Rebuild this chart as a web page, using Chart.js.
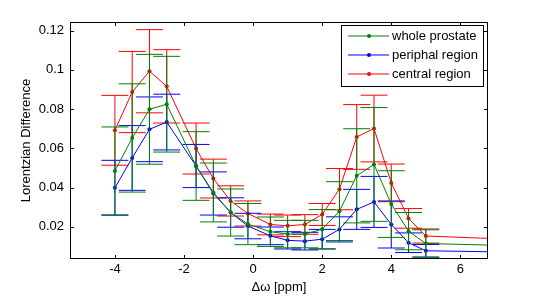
<!DOCTYPE html>
<html>
<head>
<meta charset="utf-8">
<script src="https://cdn.jsdelivr.net/npm/chart.js@4"></script>
<style>
  html, body { margin: 0; padding: 0; background: #fff; }
</style>
</head>
<body>
<canvas id="lorentzChart" width="540" height="298"></canvas>
<script>
// frequency offsets [ppm]
const offsets = [-4, -3.5, -3, -2.5, -1.65, -1.15, -0.65, -0.15, 0.5, 1, 1.5, 2, 2.5, 3, 3.5, 4, 4.5, 5, 10];

// mean Lorentzian difference and its error for each region
const wholeProstate = [0.0485, 0.0653, 0.0799, 0.0825, 0.051, 0.0375, 0.0273, 0.0214, 0.0175, 0.0163, 0.0163, 0.0188, 0.028, 0.046, 0.0518, 0.0316, 0.0178, 0.0115, 0.0093];
const wholeErr = [0.0224, 0.0276, 0.028, 0.0244, 0.0175, 0.015, 0.012, 0.0105, 0.0075, 0.007, 0.007, 0.010, 0.015, 0.024, 0.029, 0.017, 0.0095, 0.007, 0.005];

const periphal = [0.0399, 0.0551, 0.0697, 0.0734, 0.051, 0.037, 0.0273, 0.0204, 0.0154, 0.0131, 0.0127, 0.0137, 0.0187, 0.0289, 0.0327, 0.0212, 0.0119, 0.0078, 0.0064];
const periphalErr = [0.014, 0.0165, 0.0165, 0.0142, 0.011, 0.011, 0.0075, 0.0065, 0.0045, 0.0044, 0.0045, 0.005, 0.0064, 0.0102, 0.013, 0.012, 0.005, 0.0032, 0.003];

const central = [0.0692, 0.0887, 0.0993, 0.0916, 0.0599, 0.0446, 0.0332, 0.0268, 0.0212, 0.0205, 0.0212, 0.0263, 0.0392, 0.0658, 0.0701, 0.0424, 0.0243, 0.0153, 0.012];
const centralErr = [0.0178, 0.0207, 0.0212, 0.0187, 0.013, 0.0099, 0.0077, 0.0064, 0.0053, 0.0055, 0.005, 0.0056, 0.0105, 0.0165, 0.017, 0.0096, 0.005, 0.0036, 0.003];

const xTicks = [-4, -2, 0, 2, 4, 6];
const xTickLabels = ['-4', '-2', '0', '2', '4', '6'];
const yTicks = [0.02, 0.04, 0.06, 0.08, 0.1, 0.12];
const yTickLabels = ['0.02', '0.04', '0.06', '0.08', '0.1', '0.12'];

const capHalf = 0.39; // half width of the error bar caps, in ppm

Chart.defaults.font.family = '"Liberation Sans", Arial, sans-serif';
Chart.defaults.font.size = 13;
Chart.defaults.color = '#000';

function makeSet(label, values, errors, color) {
    return {
        label: label,
        data: offsets.map((x, i) => ({ x: x, y: values[i] })),
        errors: errors,
        borderColor: color,
        backgroundColor: color,
        borderWidth: 1,
        pointRadius: 2,
        pointBorderWidth: 0,
        pointHoverRadius: 2,
        tension: 0,
    };
}

// error bars, drawn right after each series
const errorBars = {
    id: 'errorBars',
    afterDatasetDraw(chart, args) {
        const ds = chart.data.datasets[args.index];
        const { ctx, chartArea: a, scales: { x, y } } = chart;
        ctx.save();
        ctx.beginPath();
        ctx.rect(a.left, a.top, a.right - a.left, a.bottom - a.top);
        ctx.clip();
        ctx.strokeStyle = ds.borderColor;
        ctx.lineWidth = 1;
        ds.data.forEach((p, i) => {
            const e = ds.errors[i];
            const px = x.getPixelForValue(p.x);
            const x0 = x.getPixelForValue(p.x - capHalf);
            const x1 = x.getPixelForValue(p.x + capHalf);
            const yt = y.getPixelForValue(p.y + e);
            const yb = y.getPixelForValue(p.y - e);
            ctx.beginPath();
            ctx.moveTo(px, yt); ctx.lineTo(px, yb);
            ctx.moveTo(x0, yt); ctx.lineTo(x1, yt);
            ctx.moveTo(x0, yb); ctx.lineTo(x1, yb);
            ctx.stroke();
        });
        ctx.restore();
    }
};

// box with inward ticks and the boxed legend
const frame = {
    id: 'frame',
    afterDraw(chart) {
        const { ctx, chartArea: a, scales: { x, y } } = chart;
        ctx.save();
        ctx.strokeStyle = '#000';
        ctx.lineWidth = 1;
        ctx.strokeRect(a.left + 0.5, a.top + 0.5, a.right - a.left - 1, a.bottom - a.top - 1);
        ctx.beginPath();
        x.ticks.forEach(t => {
            const px = Math.round(x.getPixelForValue(t.value)) + 0.5;
            ctx.moveTo(px, a.bottom); ctx.lineTo(px, a.bottom - 4);
            ctx.moveTo(px, a.top); ctx.lineTo(px, a.top + 4);
        });
        y.ticks.forEach(t => {
            const py = Math.round(y.getPixelForValue(t.value)) + 0.5;
            ctx.moveTo(a.left, py); ctx.lineTo(a.left + 4, py);
            ctx.moveTo(a.right, py); ctx.lineTo(a.right - 4, py);
        });
        ctx.stroke();

        // legend
        const lx = 341, ly = 25, lw = 142, lh = 61;
        ctx.fillStyle = '#fff';
        ctx.fillRect(lx, ly, lw, lh);
        ctx.strokeRect(lx + 0.5, ly + 0.5, lw, lh);
        ctx.font = '13px "Liberation Sans", Arial, sans-serif';
        ctx.textBaseline = 'middle';
        chart.data.datasets.forEach((ds, i) => {
            const ry = ly + 11 + i * 19;
            ctx.strokeStyle = ds.borderColor;
            ctx.beginPath();
            ctx.moveTo(lx + 7, ry); ctx.lineTo(lx + 48, ry);
            ctx.stroke();
            ctx.fillStyle = ds.borderColor;
            ctx.beginPath();
            ctx.arc(lx + 28, ry, 2, 0, Math.PI * 2);
            ctx.fill();
            ctx.fillStyle = '#000';
            ctx.fillText(ds.label, lx + 51, ry + 0.5);
        });
        ctx.restore();
    }
};

const ctx = document.getElementById('lorentzChart').getContext('2d');

const chart = new Chart(ctx, {
    type: 'line',
    data: {
        datasets: [
            makeSet('whole prostate', wholeProstate, wholeErr, 'rgb(0, 128, 0)'),
            makeSet('periphal region', periphal, periphalErr, 'rgb(0, 0, 255)'),
            makeSet('central region', central, centralErr, 'rgb(255, 0, 0)'),
        ]
    },
    options: {
        responsive: false,
        devicePixelRatio: 1,
        animation: false,
        layout: { padding: { top: 22, right: 52, left: 0, bottom: 0 } },
        plugins: {
            legend: { display: false },
            tooltip: { enabled: false },
        },
        scales: {
            x: {
                type: 'linear',
                min: -5.3,
                max: 6.8,
                afterBuildTicks: s => { s.ticks = xTicks.map(v => ({ value: v })); },
                afterFit: s => { s.height = 39; },
                grid: { display: false, drawTicks: false },
                border: { display: false },
                ticks: {
                    padding: 3,
                    maxRotation: 0,
                    autoSkip: false,
                    callback: (v, i) => xTickLabels[i],
                },
                title: { display: true, text: 'Δω [ppm]', padding: { top: 0, bottom: 3 } },
            },
            y: {
                type: 'linear',
                min: 0.0036,
                max: 0.1244,
                afterBuildTicks: s => { s.ticks = yTicks.map(v => ({ value: v })); },
                afterFit: s => { s.width = 70; },
                grid: { display: false, drawTicks: false },
                border: { display: false },
                ticks: {
                    padding: 6,
                    autoSkip: false,
                    callback: (v, i) => yTickLabels[i],
                },
                title: { display: true, text: 'Lorentzian Difference', padding: { top: 19, bottom: 0 } },
            }
        }
    },
    plugins: [errorBars, frame]
});
</script>
</body>
</html>
